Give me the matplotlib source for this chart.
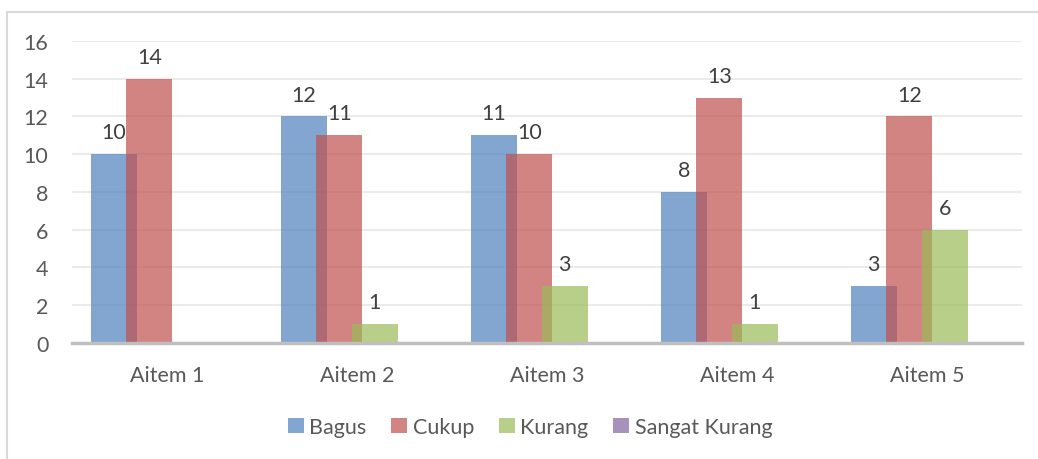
import matplotlib.pyplot as plt
from matplotlib.patches import Patch, Rectangle
import numpy as np

plt.rcParams['font.family'] = ['Lato', 'DejaVu Sans']

items = ['Aitem 1', 'Aitem 2', 'Aitem 3', 'Aitem 4', 'Aitem 5']
series = ['Bagus', 'Cukup', 'Kurang', 'Sangat Kurang']
bagus = [10, 12, 11, 8, 3]
cukup = [14, 11, 10, 13, 12]
kurang = [0, 1, 3, 1, 6]
sangat_kurang = [0, 0, 0, 0, 0]
colors = ['#4f81bd', '#c0504d', '#9bbb59', '#8064a2']

values = [bagus, cukup, kurang, sangat_kurang]

fig = plt.figure(figsize=(10.38, 4.6), dpi=100)
ax = fig.add_axes([0.0694, 0.2522, 0.9152, 0.6565])

# outer chart border (only left/top visible in the original)
fig.patches.append(Rectangle((7 / 1038, -0.1), 1.2, 1 - 13 / 460 + 0.1, transform=fig.transFigure,
                             fill=False, edgecolor='#d9d9d9', linewidth=1.5))

x = np.arange(len(items))
step = 0.187
width = 0.242
for i, (name, vals) in enumerate(zip(series, values)):
    pos = x + (i - 1.5) * step
    ax.bar(pos, vals, width, color=colors[i], alpha=0.7, zorder=3 + i)
    for px, v in zip(pos, vals):
        if v != 0:
            ax.annotate(str(v), (px, v), xytext=(0, 11.5), textcoords='offset points',
                        ha='center', va='baseline', fontsize=15.5, color='#404040', zorder=10)

ax.set_xlim(-0.5, 4.5)
ax.set_ylim(0, 16)
ax.set_yticks(range(0, 17, 2))
ax.set_xticks(x)
ax.set_xticklabels(items)
ax.yaxis.grid(True, color='#ebebeb', linewidth=1.5, zorder=0)
ax.set_axisbelow(True)
for s in ['top', 'right', 'left']:
    ax.spines[s].set_visible(False)
ax.spines['bottom'].set_color('#bfbfbf')
ax.spines['bottom'].set_linewidth(2.5)
ax.spines['bottom'].set_zorder(20)
ax.tick_params(axis='both', length=0, labelsize=15.5, labelcolor='#595959')
ax.tick_params(axis='y', pad=17)
ax.tick_params(axis='x', pad=16)

handles = [Patch(facecolor=c, alpha=0.7, edgecolor='none') for c in colors]
fig.legend(handles, series, loc='center', bbox_to_anchor=(0.5106, 0.0696), ncol=4,
           frameon=False, fontsize=15.5, labelcolor='#595959', handlelength=0.75,
           handleheight=0.75, handletextpad=0.25, columnspacing=1.15, borderpad=0)

fig.savefig('out.png', dpi=100)
